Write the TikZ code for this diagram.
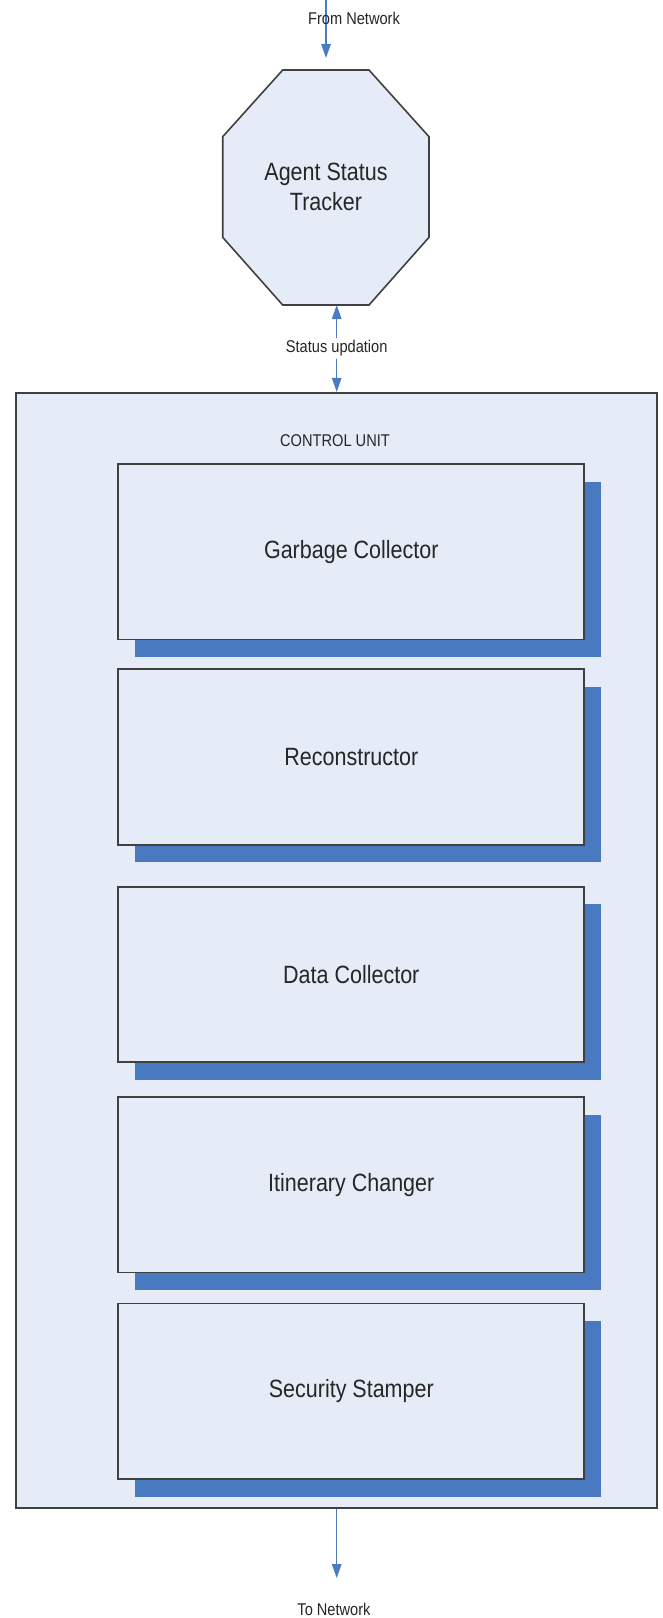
\documentclass[tikz,border=0pt]{standalone}
\usepackage{fontspec}
\setmainfont{Liberation Sans}[FakeStretch=0.86]
\usetikzlibrary{arrows.meta,shadows}
\definecolor{fillc}{HTML}{E6ECF7}
\definecolor{shadc}{HTML}{4879C1}
\definecolor{arrc}{HTML}{4A7CC4}
\definecolor{edgec}{HTML}{404040}
\definecolor{txtc}{HTML}{262626}
\begin{document}
\begin{tikzpicture}[x=1pt,y=-1pt,
  lbl/.style={font=\fontsize{17}{20}\selectfont, text=txtc, inner sep=0pt},
  biglbl/.style={font=\fontsize{25}{30}\selectfont, text=txtc, align=center, inner sep=0pt},
  unitbox/.style={draw=edgec, line width=1.7pt, fill=fillc, minimum width=466pt, minimum height=175.5pt, inner sep=0pt,
    font=\fontsize{25}{30}\selectfont, text=txtc,
    drop shadow={shadow xshift=16.5pt, shadow yshift=-17.5pt, fill=shadc, opacity=1}},
  outline/.style={draw=edgec, line width=1.6pt, fill=fillc},
  flow/.style={draw=arrc, line width=1.3pt, -{Triangle[length=14pt,width=9.5pt]}}
]
\fill[white] (0,0) rectangle (662,1618);
\useasboundingbox (0,0) rectangle (662,1618);

% incoming arrow
\coordinate (src) at (326,0);
\coordinate (fromtip) at (326,58);
\draw[flow] (src) -- (fromtip);
\node[lbl] (fn) at (354,18) {From Network};

% agent status tracker octagon
\draw[outline] (282.7,70) -- (369,70) -- (429,136.7) -- (429,237.3) -- (369,305) -- (282.7,305) -- (222.7,237.3) -- (222.7,136.7) -- cycle;
\node[biglbl] (ast) at (326,187) {Agent Status\\Tracker};
\coordinate (octbot) at (336.7,305);

% control unit
\node[outline, minimum width=641pt, minimum height=1115.3pt, inner sep=0pt] (cu) at (336.2,950.35) {};
\node[lbl] (cul) at (335,441) {CONTROL UNIT};

% status updation
\node[lbl, minimum height=20pt] (su) at (336.7,348.3) {Status updation};
\draw[flow] (su.north) -- (octbot);
\draw[flow] (su.south) -- (su.south |- cu.north);

% inner units
\node[unitbox] (gc) at (351.3,551.75) {Garbage Collector};
\node[unitbox] (rc) at (351.3,757) {Reconstructor};
\node[unitbox] (dc) at (351.3,974.5) {Data Collector};
\node[unitbox] (ic) at (351.3,1184.8) {Itinerary Changer};
\node[unitbox] (ss) at (351.3,1391.3) {Security Stamper};

% outgoing arrow
\coordinate (tonet) at (336.7,1578);
\draw[flow] (cu.south -| tonet) -- (tonet);
\node[lbl] (tn) at (334,1609) {To Network};
\end{tikzpicture}
\end{document}
